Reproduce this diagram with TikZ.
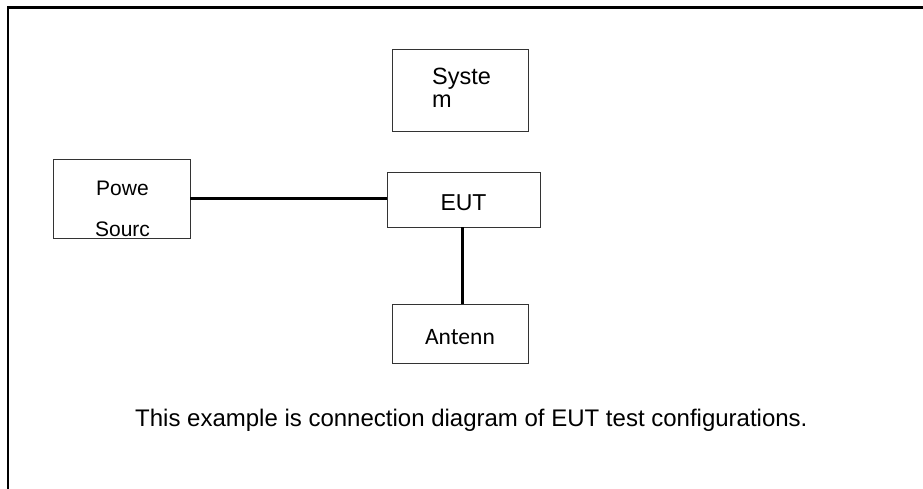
\documentclass[tikz,border=0pt]{standalone}
\usepackage{fontspec}
\setmainfont{Liberation Sans}
\newfontfamily\calibrifont{Carlito}
\usetikzlibrary{positioning}
\tikzstyle{block} = [rectangle, draw = black!80, line width = 0.9pt, fill = white, inner sep = 0pt]
\tikzstyle{wire} = [line width = 3pt, black]
\tikzstyle{frame} = [line width = 2.5pt, black]
\tikzstyle{txt} = [inner sep = 0pt, font = \fontsize{23.5}{23}\selectfont]

\begin{document}
\begin{tikzpicture}[x = 1pt, y = -1pt]
\useasboundingbox (0,0) rectangle (923,489);

\draw [frame] (8,489) -- (8,7.5) -- (923,7.5);

\node(system)  [block, minimum width = 136pt, minimum height = 82pt] at (460,90) {};
\node(systemtxt) [txt, anchor = base west, align = left] at (432,108) {Syste\\m};
\node(eut)     [block, minimum width = 153pt, minimum height = 55pt, font = \fontsize{23}{26}\selectfont, text height = 23pt, text depth = 0pt] at (463.5,199.5) {EUT};
\node(power)   [block, minimum width = 137pt, minimum height = 79pt] at (121.5,198.5) {};
\begin{scope}
\clip (power.south west) rectangle (power.north east);
\node(powertxt) [txt, anchor = base, align = center, font = \fontsize{21}{41}\selectfont] at (122.5,236.5) {Powe\\Sourc};
\end{scope}
\node(antenna) [block, minimum width = 136pt, minimum height = 59pt, font = \calibrifont\fontsize{23.5}{25}\selectfont, text height = 21pt, text depth = 0pt] at (460,333.5) {Antenn};
\node(caption) [txt, anchor = base west, font = \fontsize{24}{26}\selectfont] at (135,426) {This example is connection diagram of EUT test configurations.};

\draw [wire] (power.east) -- (power.east -| eut.west);
\draw [wire] (eut.south -| 462,0) -- (antenna.north -| 462,0);

\end{tikzpicture}
\end{document}
